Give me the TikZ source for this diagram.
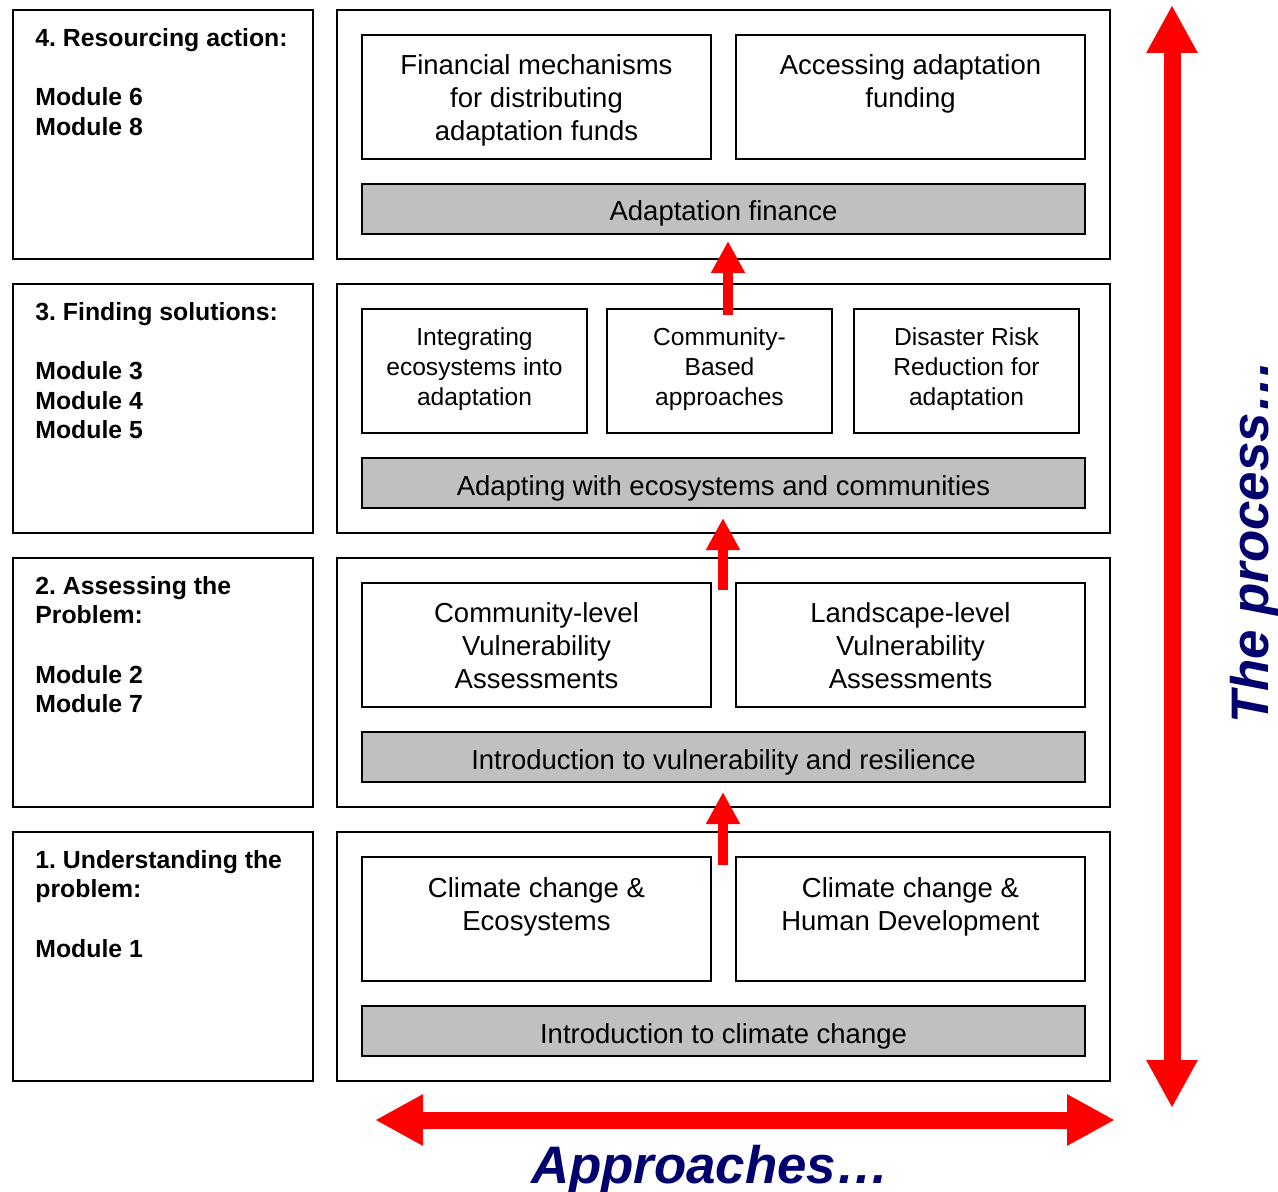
\documentclass[tikz,border=0pt]{standalone}
\usepackage{fontspec}
\setmainfont{Liberation Sans}
\usetikzlibrary{positioning,arrows.meta}
\definecolor{bargray}{RGB}{192,192,192}
\definecolor{navy}{RGB}{0,0,110}
\newcommand{\bigfont}{\fontsize{13.75}{16.5}\selectfont}
\newcommand{\smfont}{\fontsize{12.3}{15}\selectfont}
\newcommand{\stagefont}{\bfseries\fontsize{12.4}{14.8}\selectfont}
\newcommand{\headfont}{\bfseries\itshape\fontsize{26.4}{30}\selectfont}
\frenchspacing

\begin{document}
\begin{tikzpicture}[x=0.5pt,y=-0.5pt,
    frame/.style={draw,line width=1pt,inner sep=0pt,outer sep=0pt,anchor=north west},
    graybar/.style={frame,fill=bargray,minimum width=361.5pt,minimum height=25pt,font=\bigfont,
      text height=12pt,text depth=0pt},
    wide/.style={frame,minimum width=174.5pt,minimum height=62pt},
    narrow/.style={frame,minimum width=112.5pt,minimum height=62pt},
    boxtext/.style={align=center,inner sep=0pt,font=\bigfont},
    stagetext/.style={align=left,inner sep=0pt,font=\stagefont},
    uparrow/.style={red,line width=5pt,-{Triangle[width=16pt,length=16pt]}},
    bigarrow/.style={red,line width=8.5pt,{Triangle[width=24pt,length=24pt]}-{Triangle[width=24pt,length=24pt]}}]
  \useasboundingbox (0,0) rectangle (1278,1192);

  % stages, panels and base bars
  \foreach \r/\ytop/\stage/\bartext in {
      1/832/{1. Understanding the\\problem:\\[14.8pt]Module 1}/{Introduction to climate change},
      2/558/{2. Assessing the\\Problem:\\[14.8pt]Module 2\\Module 7}/{Introduction to vulnerability and resilience},
      3/284/{3. Finding solutions:\\[14.8pt]Module 3\\Module 4\\Module 5}/{Adapting with ecosystems and communities},
      4/10/{4. Resourcing action:\\[14.8pt]Module 6\\Module 8}/{Adaptation finance}} {
    \node[frame,minimum width=150pt,minimum height=124.5pt] (stage\r) at (13,\ytop) {};
    \node[stagetext,below right=9pt and 11pt of stage\r.north west] (stagetxt\r) {\stage};
    \node[frame,minimum width=386.5pt,minimum height=124.5pt] (panel\r) at (337,\ytop) {};
    \node[graybar] (bar\r) at (362,\ytop+174) {\bartext};
  }

  % row 4
  \node[wide] (fin) at (362,35) {};
  \node[boxtext,below=9.5pt of fin.north] (fintxt) {Financial mechanisms\\for distributing\\adaptation funds};
  \node[wide] (access) at (736,35) {};
  \node[boxtext,below=9.5pt of access.north] (accesstxt) {Accessing adaptation\\funding};

  % row 3
  \node[narrow] (integ) at (362,309) {};
  \node[boxtext,font=\smfont,below=9pt of integ.north] (integtxt) {Integrating\\ecosystems into\\adaptation};
  \node[narrow] (commb) at (607,309) {};
  \node[boxtext,font=\smfont,below=9pt of commb.north] (commbtxt) {Community-\\Based\\approaches};
  \node[narrow] (drr) at (854,309) {};
  \node[boxtext,font=\smfont,below=9pt of drr.north] (drrtxt) {Disaster Risk\\Reduction for\\adaptation};

  % row 2
  \node[wide] (cva) at (362,583) {};
  \node[boxtext,below=9.5pt of cva.north] (cvatxt) {Community-level\\Vulnerability\\Assessments};
  \node[wide] (lva) at (736,583) {};
  \node[boxtext,below=9.5pt of lva.north] (lvatxt) {Landscape-level\\Vulnerability\\Assessments};

  % row 1
  \node[wide] (cce) at (362,857) {};
  \node[boxtext,below=10pt of cce.north] (ccetxt) {Climate change \&\\Ecosystems};
  \node[wide] (cchd) at (736,857) {};
  \node[boxtext,below=10pt of cchd.north] (cchdtxt) {Climate change \&\\Human Development};

  % steps between rows
  \coordinate (up1) at (723,865);
  \coordinate (up2) at (723,590);
  \coordinate (up3) at (728,315);
  \draw[uparrow,shorten >=5pt] (up1) -- (up1 |- bar2.south);
  \draw[uparrow,shorten >=5pt] (up2) -- (up2 |- bar3.south);
  \draw[uparrow,shorten >=3.5pt] (up3) -- (up3 |- bar4.south);

  % axes
  \coordinate (proctop) at (1172,5);
  \coordinate (procbot) at (1172,1108);
  \coordinate (appleft) at (375,1120);
  \coordinate (appright) at (1115,1120);
  \draw[bigarrow] (procbot) -- (proctop);
  \draw[bigarrow] (appleft) -- (appright);
  \node[navy,font=\headfont,rotate=90,anchor=base,inner sep=0pt] (process) at (1268,542) {The process…};
  \node[navy,font=\headfont,anchor=base,inner sep=0pt] (approaches) at (710,1183) {Approaches…};
\end{tikzpicture}
\end{document}
